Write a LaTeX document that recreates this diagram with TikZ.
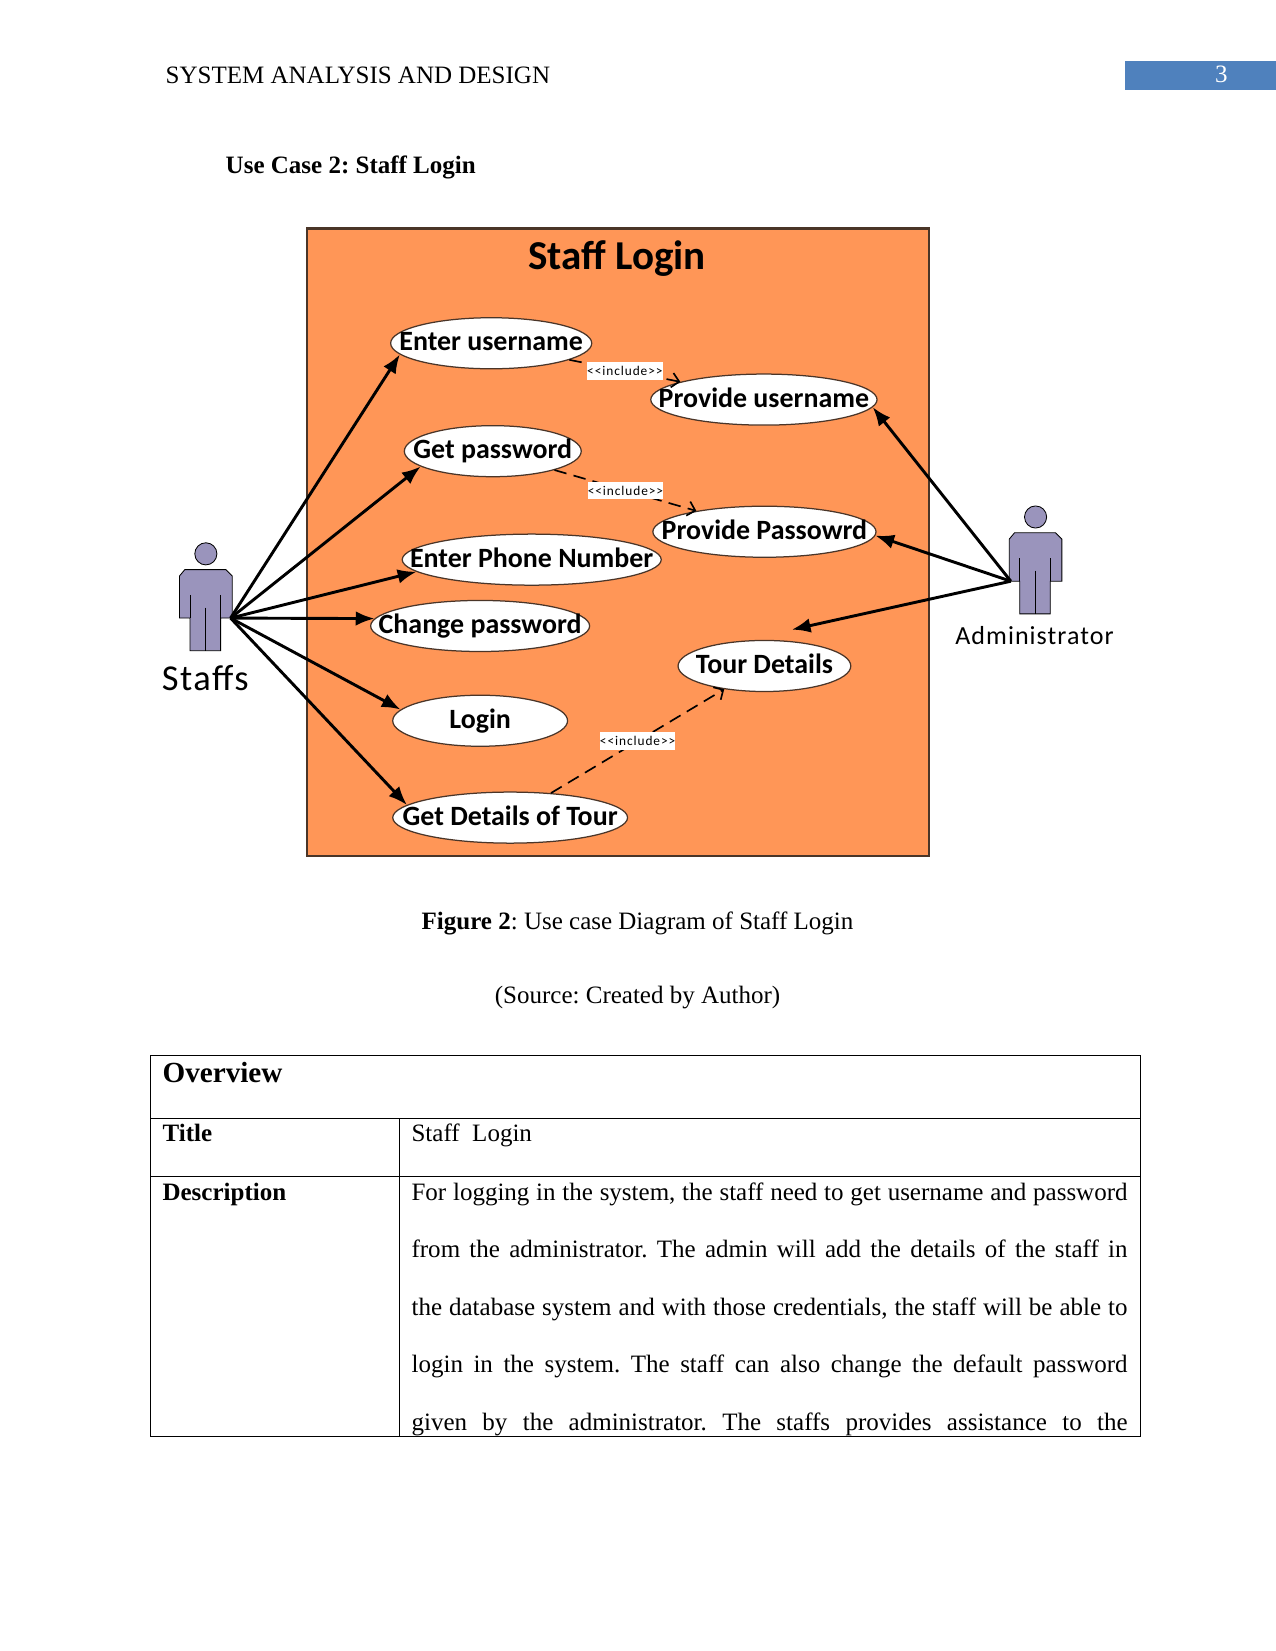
\documentclass[tikz,border=0pt]{standalone}
\usepackage{fontspec}
\setmainfont{Liberation Serif}
\newfontfamily\umlfont{Carlito}
\newfontfamily\inclfont[LetterSpace=7]{Carlito}
\newfontfamily\actorfont[LetterSpace=4]{Carlito}
\usetikzlibrary{arrows.meta,shapes.geometric}
\definecolor{boxorange}{HTML}{FF9657}
\definecolor{actorfill}{HTML}{9A94BC}
\definecolor{tabblue}{HTML}{4F81BD}
\definecolor{edgebrown}{HTML}{4A3528}
\newcommand{\casetext}[1]{\makebox[0pt]{\rule[-2.2pt]{0pt}{10.2pt}#1}}
\newcommand{\pagefont}{\fontsize{12}{14.4}\selectfont}
\tikzset{
  usecase/.style={ellipse,draw=edgebrown,line width=0.6pt,fill=white,inner sep=0pt,minimum height=24.5pt,
    font=\umlfont\bfseries\fontsize{13.4}{15}\selectfont},
  assoc/.style={line width=1.4pt,-{Latex[length=9pt,width=7pt]}},
  incl/.style={line width=0.8pt,dash pattern=on 6pt off 3.5pt,-{Straight Barb[length=3.5pt,width=7pt]}},
  incllabel/.style={fill=white,inner sep=0pt,minimum width=36pt,minimum height=8.5pt,
    font=\inclfont\fontsize{6.4}{8}\selectfont},
  bodytext/.style={anchor=base west,inner sep=0pt},
  actor/.pic={
    \draw[fill=actorfill,line width=0.4pt] (0,-61) circle (10.5);
    \draw[fill=actorfill,line width=0.4pt] (-25,-40) -- (-20,-46) -- (19,-46) -- (25,-40) -- (25,0)
      -- (14,0) -- (14,31) -- (-15,31) -- (-15,0) -- (-25,0) -- cycle;
    \draw[line width=0.4pt] (-15,-22) -- (-15,0) (14,-22) -- (14,0) (0,-10) -- (0,31);
  }
}
\begin{document}
\begin{tikzpicture}[x=0.5053pt,y=-0.5053pt,font=\pagefont\frenchspacing]
  \useasboundingbox (0,0) rectangle (1211,1568);

  % header
  \node[bodytext] (header) at (157,79) {SYSTEM ANALYSIS AND DESIGN};
  \node[fill=tabblue,text=white,minimum width=72.3pt,minimum height=13.6pt,inner sep=0pt,anchor=north west] (pagebox) at (1068,58) {};
  \node[text=white,inner sep=0pt] (pagenum) at (1160,71) {3};
  \node[bodytext,font=\pagefont\frenchspacing\bfseries] (heading) at (214,165) {Use Case 2: Staff Login};

  % system box
  \node[draw=edgebrown,line width=1pt,fill=boxorange,anchor=north west,minimum width=298.4pt,minimum height=301.2pt,inner sep=0pt] (system) at (291,216) {};
  \node[inner sep=0pt,font=\umlfont\bfseries\fontsize{19.7}{22}\selectfont] (systitle) at (586,246) {Staf{}f Login};

  % use cases
  \node[usecase,minimum width=96.5pt] (entername) at (466.5,326) {\casetext{Enter username}};
  \node[usecase,minimum width=108.6pt] (givename) at (725.5,379.5) {\casetext{Provide username}};
  \node[usecase,minimum width=84.9pt] (getpass) at (468,428.5) {\casetext{Get password}};
  \node[usecase,minimum width=107.1pt] (givepass) at (726,505) {\casetext{Provide Passowrd}};
  \node[usecase,minimum width=124.3pt] (enterphone) at (505,531.5) {\casetext{Enter Phone Number}};
  \node[usecase,minimum width=105.1pt] (changepass) at (456,594.5) {\casetext{Change password}};
  \node[usecase,minimum width=82.9pt] (tour) at (726,632.5) {\casetext{Tour Details}};
  \node[usecase,minimum width=83.9pt] (login) at (456,684.5) {\casetext{Login}};
  \node[usecase,minimum width=112.7pt] (gettour) at (484.5,776.5) {\casetext{Get Details of Tour}};

  % actors
  \pic at (195.5,587) {actor};
  \pic at (983.5,552) {actor};
  \node[inner sep=0pt,font=\actorfont\fontsize{17.5}{20}\selectfont] (staffs) at (195,644) {Staf{}fs};
  \node[inner sep=0pt,font=\actorfont\fontsize{12.5}{15}\selectfont] (admin) at (982.5,604) {Administrator};
  \coordinate (staffhand) at (219,587);
  \coordinate (adminhand) at (960,552);
  \coordinate (tourend) at (752,598);

  % associations
  \foreach \uc/\ang in {entername/187,getpass/192,enterphone/186,changepass/176,login/172,gettour/173} {
    \draw[assoc] (staffhand) -- (\uc.\ang);
  }
  \draw[assoc] (adminhand) -- (givename.-4);
  \draw[assoc] (adminhand) -- (givepass.-2);
  \draw[assoc] (adminhand) -- (tourend);

  % includes
  \draw[incl] (entername.-12) -- node[incllabel] (incla) {<<include>>} (givename.168);
  \draw[incl] (getpass.-17) -- node[incllabel] (inclb) {<<include>>} (givepass.163);
  \draw[incl] (gettour.31) -- node[incllabel] (inclc) {<<include>>} (tour.210);

  % caption
  \node[inner sep=0pt,anchor=base] (caption) at (605.5,883) {\textbf{Figure 2}: Use case Diagram of Staff Login};
  \node[inner sep=0pt,anchor=base] (source) at (605.5,953) {(Source: Created by Author)};

  % table
  \node[bodytext,font=\bfseries\fontsize{14}{16}\selectfont] (overview) at (154,1028) {Overview};
  \node[bodytext,font=\pagefont\bfseries] (titlekey) at (154,1084) {Title};
  \node[bodytext] (titleval) at (390.5,1084) {Staff\ \ Login};
  \node[bodytext,font=\pagefont\bfseries] (desckey) at (154,1140) {Description};
  \node[anchor=north west,inner sep=0pt,text width=343.6pt,align=justify,
    font=\fontsize{12}{27.55}\selectfont\frenchspacing] (descval) at (390.5,1123)
    {For logging in the system, the staff need to get username and password\linebreak
     from the administrator. The admin will add the details of the staff in\linebreak
     the database system and with those credentials, the staff will be able to\linebreak
     login in the system. The staff can also change the default password\linebreak
     given by the administrator. The staffs provides assistance to the\linebreak};
  \draw[line width=0.5pt] (143,1002) rectangle (1083,1364);
  \draw[line width=0.5pt] (143,1062) -- (1083,1062);
  \draw[line width=0.5pt] (143,1117) -- (1083,1117);
  \draw[line width=0.5pt] (379.5,1062) -- (379.5,1364);
\end{tikzpicture}
\end{document}
